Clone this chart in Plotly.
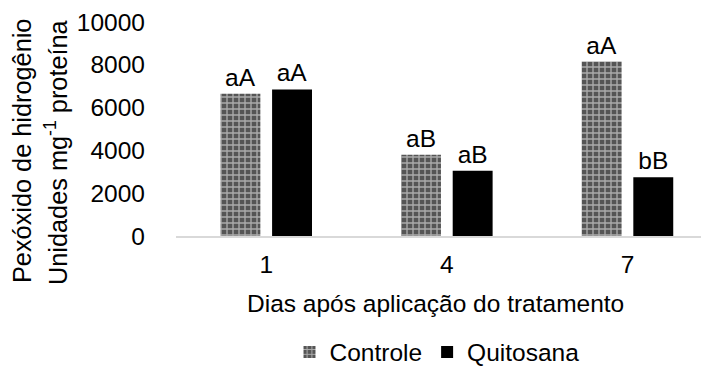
import plotly.graph_objects as go

dias = ["1", "4", "7"]
controle = [6650, 3800, 8150]
quitosana = [6850, 3050, 2750]
letras_controle = ["aA", "aB", "aA"]
letras_quitosana = ["aA", "aB", "bB"]
y_ticks = [0, 2000, 4000, 6000, 8000, 10000]

FONT = "Liberation Sans, Arial, sans-serif"
FS = 24.5
FS_Y = 25.3
# page body has an 8px default margin, so the figure is drawn 8px in from the window corner
OFF = 8
W, H = 709 - OFF, 367 - OFF
L, R, T, B = 176 - OFF, 0, 22 - OFF, (367 - 236)
PW = W - L - R
PH = H - T - B

def px_x(px):
    return (px - OFF - L) / PW

def px_y(py):
    return (H - B - (py - OFF)) / PH

fig = go.Figure()
fig.add_trace(go.Bar(
    x=dias, y=controle, name="Controle",
    text=letras_controle, textposition="outside",
    textfont=dict(size=FS, color="black", family=FONT),
    width=0.221, offset=-0.254,
    marker=dict(color="#5a5a5a", line=dict(width=0),
                pattern=dict(shape="+", fgcolor="#ffffff", bgcolor="#555555",
                             size=6, solidity=0.4)),
    cliponaxis=False,
))
fig.add_trace(go.Bar(
    x=dias, y=quitosana, name="Quitosana",
    text=letras_quitosana, textposition="outside",
    textfont=dict(size=FS, color="black", family=FONT),
    width=0.221, offset=0.032,
    marker=dict(color="black", line=dict(width=0)),
    cliponaxis=False,
))

fig.update_layout(
    width=W, height=H,
    margin=dict(l=L, r=R, t=T, b=B, autoexpand=False),
    plot_bgcolor="white", paper_bgcolor="white",
    font=dict(family=FONT, size=FS, color="black"),
    barmode="group",
    showlegend=True,
    legend=dict(orientation="h", x=px_x(437), xanchor="center",
                y=px_y(352), yanchor="middle", font=dict(size=FS, color="black"),
                itemwidth=30, traceorder="normal"),
    xaxis=dict(type="category", range=[-0.5, 2.451], showline=True,
               linecolor="#d9d9d9", linewidth=1.5, ticks="", showgrid=False,
               automargin=False,
               tickfont=dict(size=FS, color="black"), ticklabelstandoff=6),
    yaxis=dict(range=[0, 10000], tickvals=y_ticks, tickformat="d", showgrid=False,
               zeroline=False, showline=False, ticks="", automargin=False,
               tickfont=dict(size=FS, color="black"), ticklabelstandoff=30),
)

fig.add_annotation(text="Pexóxido de hidrogênio", textangle=-90,
                   xref="paper", yref="paper", x=px_x(22), y=px_y(151),
                   xanchor="center", yanchor="middle", showarrow=False,
                   font=dict(size=FS_Y, color="black"))
fig.add_annotation(text="Unidades mg<sup>-1</sup> proteína", textangle=-90,
                   xref="paper", yref="paper", x=px_x(56), y=px_y(152),
                   xanchor="center", yanchor="middle", showarrow=False,
                   font=dict(size=FS_Y, color="black"))
fig.add_annotation(text="Dias após aplicação do tratamento",
                   xref="paper", yref="paper", x=px_x(435), y=px_y(303),
                   xanchor="center", yanchor="middle", showarrow=False,
                   font=dict(size=FS, color="black"))

fig.write_html("out.html")
